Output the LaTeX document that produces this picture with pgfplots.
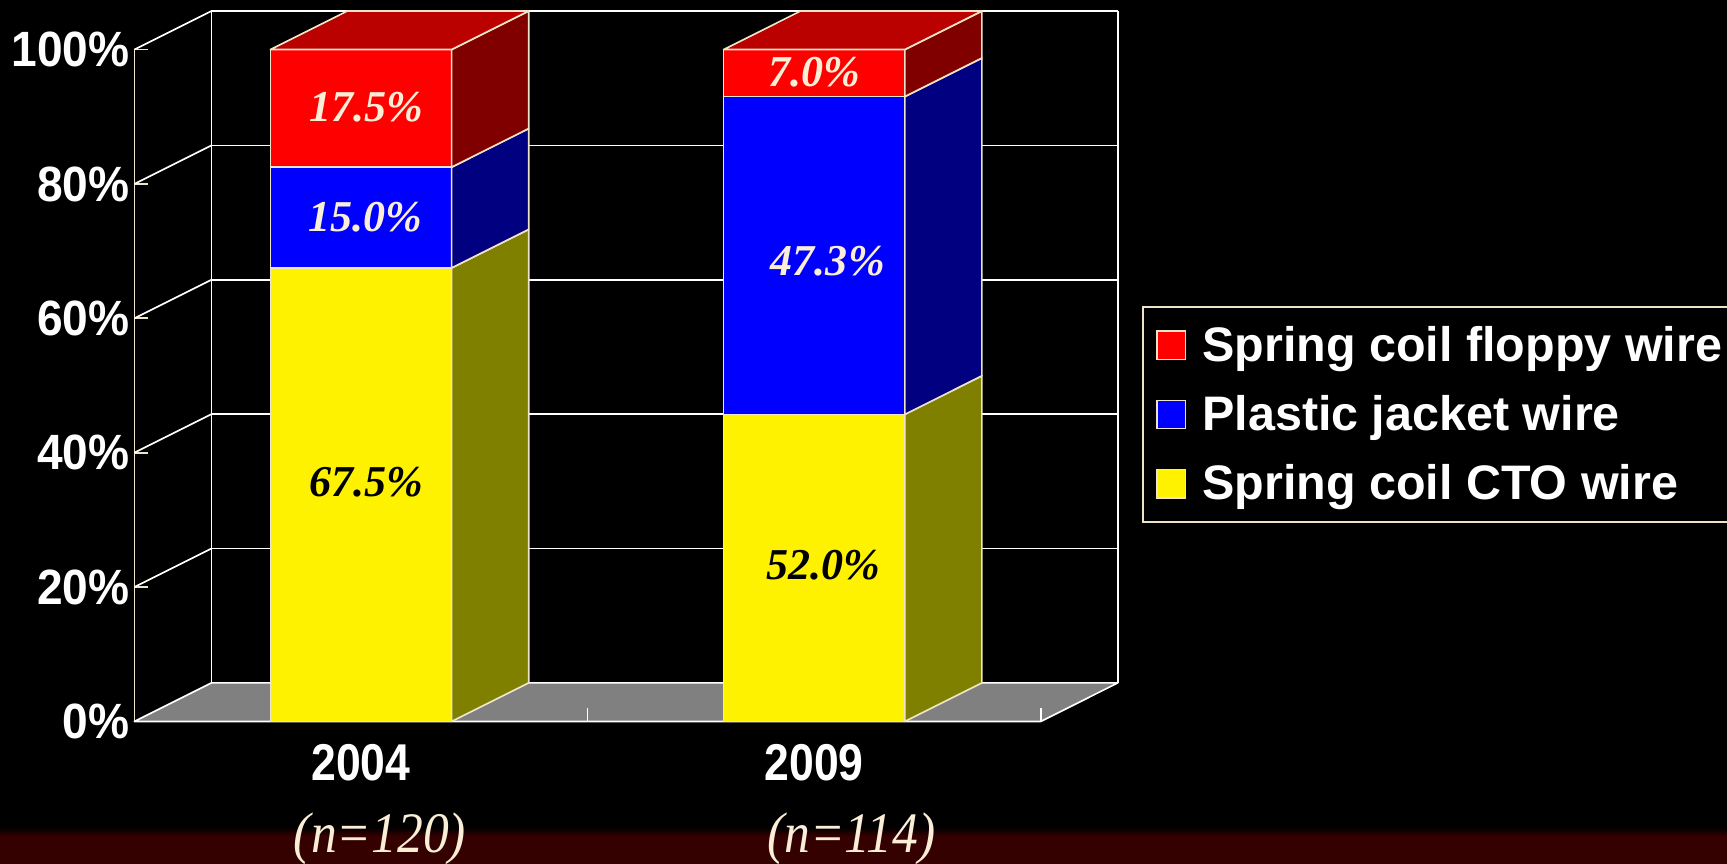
\documentclass[border=0pt]{standalone}
\usepackage{pgfplots}
\pgfplotsset{compat=1.18}
\usepackage{fontspec}
\setmainfont{Liberation Serif}
\newfontfamily\sansb{Liberation Sans}
\newfontfamily\ylab{Liberation Sans}[FakeStretch=0.93]
\newfontfamily\xlab{Liberation Sans}[FakeStretch=0.86]
\newfontfamily\serifn{Liberation Serif}[FakeStretch=0.9]
\definecolor{cream}{RGB}{240,228,200}
\definecolor{lblcream}{RGB}{250,238,215}
\definecolor{topred}{RGB}{187,0,0}
\definecolor{sidered}{RGB}{128,0,0}
\definecolor{sideblue}{RGB}{0,0,128}
\definecolor{sideyel}{RGB}{128,128,0}
\definecolor{floorgray}{RGB}{128,128,128}
\definecolor{band}{RGB}{52,0,0}
\pgfplotsset{
  face/.style={draw=cream, line width=0.75pt, line join=round, fill=#1, forget plot},
  grid line/.style={draw=white, line width=0.75pt, forget plot},
}
\begin{document}
\begin{tikzpicture}
% slide background
\fill[black] (-61pt,-64.5pt) rectangle (723pt,327.5pt);
\fill[band] (-61pt,-64.5pt) rectangle (723pt,-52pt);
\shade[top color=black, bottom color=band] (-61pt,-52pt) rectangle (723pt,-48pt);
\begin{axis}[
  at={(0,0)}, anchor=origin,
  x=205.75pt, y=3.05pt,
  xmin=0, xmax=2, ymin=0, ymax=100,
  clip=false,
  axis lines*=left,
  axis line style={draw=cream, line width=0.75pt},
  ytick={0,20,40,60,80,100},
  yticklabels={0\%,20\%,40\%,60\%,80\%,100\%},
  tick align=inside,
  major tick length=6pt,
  ytick style={draw=cream, line width=0.75pt},
  yticklabel style={font=\ylab\bfseries\fontsize{22.5}{24}\selectfont, text=white, inner sep=0pt, xshift=-2pt},
  xtick={0.5,1.5},
  xticklabels={2004,2009},
  xtick style={draw=none},
  xticklabel style={font=\xlab\bfseries\fontsize{23.5}{26}\selectfont, text=white, inner sep=0pt, anchor=north, yshift=-10pt},
  legend style={at={(axis cs:2.2236,61.8)}, anchor=north west,
    draw=cream, line width=1pt, fill=black, text=white,
    font=\sansb\bfseries\fontsize{22}{26}\selectfont,
    inner xsep=6pt, inner ysep=6.5pt, row sep=10pt,
    nodes={inner sep=2pt}},
  legend cell align=left,
  legend image code/.code={\draw[#1, draw=cream, line width=0.6pt] (0pt,-6.5pt) rectangle (13pt,6.5pt); \path (18pt,0pt);},
]
% floor
\addplot[face=floorgray, draw=white] coordinates {(0,0) (2,0) (2.17,5.74) (0.17,5.74)} --cycle;
% back wall grid
\addplot[grid line] coordinates {(0.17,25.74) (2.17,25.74)};
\addplot[grid line] coordinates {(0.17,45.74) (2.17,45.74)};
\addplot[grid line] coordinates {(0.17,65.74) (2.17,65.74)};
\addplot[grid line] coordinates {(0.17,85.74) (2.17,85.74)};
\addplot[grid line] coordinates {(0.17,105.74) (2.17,105.74)};
\addplot[grid line] coordinates {(0.17,5.74) (0.17,105.74)};
\addplot[grid line] coordinates {(2.17,5.74) (2.17,105.74)};
% side wall grid
\addplot[grid line] coordinates {(0,20) (0.17,25.74)};
\addplot[grid line] coordinates {(0,40) (0.17,45.74)};
\addplot[grid line] coordinates {(0,60) (0.17,65.74)};
\addplot[grid line] coordinates {(0,80) (0.17,85.74)};
\addplot[grid line] coordinates {(0,100) (0.17,105.74)};
% floor ticks
\addplot[grid line] coordinates {(1,0) (1,2)};
\addplot[grid line] coordinates {(2,0) (2,2)};
% 2004 bar: CTO 67.5, plastic 15.0, floppy 17.5
\addplot[face=yellow] coordinates {(0.3,0) (0.7,0) (0.7,67.5) (0.3,67.5)} --cycle;
\addplot[face=sideyel] coordinates {(0.7,0) (0.87,5.74) (0.87,73.24) (0.7,67.5)} --cycle;
\addplot[face=blue] coordinates {(0.3,67.5) (0.7,67.5) (0.7,82.5) (0.3,82.5)} --cycle;
\addplot[face=sideblue] coordinates {(0.7,67.5) (0.87,73.24) (0.87,88.24) (0.7,82.5)} --cycle;
\addplot[face=red] coordinates {(0.3,82.5) (0.7,82.5) (0.7,100) (0.3,100)} --cycle;
\addplot[face=sidered] coordinates {(0.7,82.5) (0.87,88.24) (0.87,105.74) (0.7,100)} --cycle;
\addplot[face=topred] coordinates {(0.3,100) (0.7,100) (0.87,105.74) (0.47,105.74)} --cycle;
% 2009 bar: CTO 45.7 (labelled 52.0), plastic 47.3, floppy 7.0
\addplot[face=yellow] coordinates {(1.3,0) (1.7,0) (1.7,45.7) (1.3,45.7)} --cycle;
\addplot[face=sideyel] coordinates {(1.7,0) (1.87,5.74) (1.87,51.44) (1.7,45.7)} --cycle;
\addplot[face=blue] coordinates {(1.3,45.7) (1.7,45.7) (1.7,93) (1.3,93)} --cycle;
\addplot[face=sideblue] coordinates {(1.7,45.7) (1.87,51.44) (1.87,98.74) (1.7,93)} --cycle;
\addplot[face=red] coordinates {(1.3,93) (1.7,93) (1.7,100) (1.3,100)} --cycle;
\addplot[face=sidered] coordinates {(1.7,93) (1.87,98.74) (1.87,105.74) (1.7,100)} --cycle;
\addplot[face=topred] coordinates {(1.3,100) (1.7,100) (1.87,105.74) (1.47,105.74)} --cycle;
% value labels
\addplot[draw=none, forget plot, nodes near coords, point meta=explicit symbolic,
  nodes near coords align=center,
  every node near coord/.append style={anchor=center, text=lblcream, font=\bfseries\itshape\fontsize{20}{22}\selectfont}]
  coordinates {(0.512,91.5)[17.5\%] (0.51,75)[15.0\%] (1.53,68.5)[47.3\%] (1.5,96.6)[7.0\%]};
\addplot[draw=none, forget plot, nodes near coords, point meta=explicit symbolic,
  nodes near coords align=center,
  every node near coord/.append style={anchor=center, text=black, font=\bfseries\itshape\fontsize{20}{22}\selectfont}]
  coordinates {(0.512,35.6)[67.5\%] (1.52,23.3)[52.0\%]};
% sample sizes
\node[font=\serifn\itshape\fontsize{26}{28}\selectfont, text=lblcream] at (axis cs:0.542,-17.5) {(n=120)};
\node[font=\serifn\itshape\fontsize{26}{28}\selectfont, text=lblcream] at (axis cs:1.582,-17.5) {(n=114)};
% legend
\addlegendimage{fill=red}
\addlegendentry{Spring coil floppy wire}
\addlegendimage{fill=blue}
\addlegendentry{Plastic jacket wire}
\addlegendimage{fill=yellow}
\addlegendentry{Spring coil CTO wire}
\end{axis}
\pgfresetboundingbox
\useasboundingbox (-61pt,-64.5pt) rectangle (723pt,327.5pt);
\end{tikzpicture}
\end{document}
